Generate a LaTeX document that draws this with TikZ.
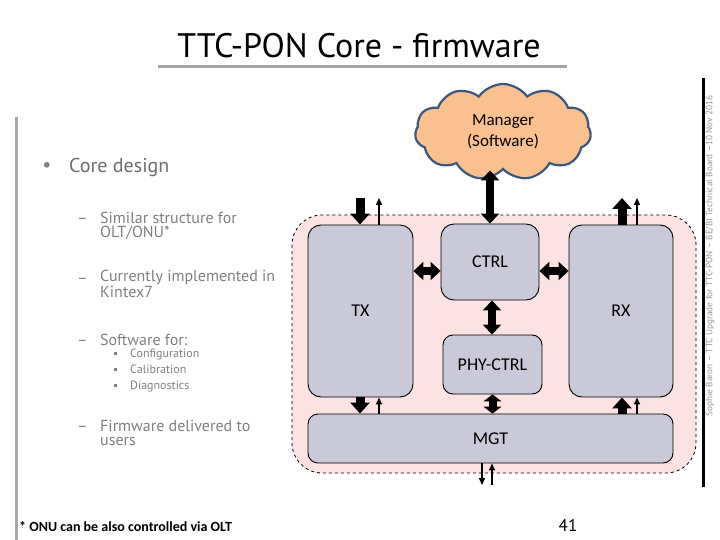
\documentclass[tikz,border=0pt]{standalone}
\usepackage{fontspec}
\setmainfont{PT Sans}
\newfontfamily\boxfont{Carlito}
\usetikzlibrary{arrows.meta,shapes.symbols,positioning}
\definecolor{boxgray}{RGB}{201,201,217}
\definecolor{corepink}{RGB}{252,226,226}
\definecolor{cloudfill}{RGB}{250,192,144}
\definecolor{cloudline}{RGB}{59,87,125}
\definecolor{txtgray}{RGB}{128,128,128}
\definecolor{rulegray}{RGB}{166,166,166}

\begin{document}
\begin{tikzpicture}[x=1pt, y=-1pt,
  blk/.style={draw, fill=boxgray, rounded corners=13pt, font=\boxfont\fontsize{18}{20}\selectfont, inner sep=0pt, line width=0.9pt},
  core/.style={draw, dashed, fill=corepink, rounded corners=30pt, line width=0.8pt},
  lvl1/.style={anchor=base west, inner sep=0pt, text=txtgray!85!black, font=\fontsize{20}{22}\selectfont},
  lvl2/.style={anchor=base west, inner sep=0pt, align=left, text=txtgray, font=\fontsize{16}{14.5}\selectfont},
  lvl3/.style={anchor=base west, inner sep=0pt, text=txtgray, font=\fontsize{12}{14}\selectfont},
  fat/.style={line width=9pt, -{Triangle[width=19pt,length=11pt]}},
  fatboth/.style={line width=8pt, {Triangle[width=18pt,length=10pt]}-{Triangle[width=18pt,length=10pt]}},
  arr/.style={line width=1.4pt, -{Triangle[width=6pt,length=7pt]}}
]
\useasboundingbox (0,0) rectangle (720,540);

% Slide frame
\draw[rulegray, line width=3pt] (16,117) -- (16,540);
\draw[line width=3pt] (703,78) -- (703,487);
\node[anchor=base, font=\fontsize{34}{40}\selectfont] (title) at (359,58) {TTC-PON Core - firmware};
\draw[rulegray, line width=3pt] (158,67) -- (567,67);
\node[rotate=90, text=rulegray!90!black, font=\fontsize{9.2}{10}\selectfont] (foot) at (710,256) {Sophie Baron -- TTC Upgrade for TTC-PON -- BE/BI Technical Board --10 Nov 2016};

% Bullets
\node[text=txtgray, font=\fontsize{20}{22}\selectfont, inner sep=0pt] (dot) at (47,167) {•};
\node[lvl1] (core) at (69,173) {Core design};
\foreach \y in {223,283,345,431}
  \node[lvl2] at (77,\y) {--};
\node[lvl2] (similar) at (100,237.5) {Similar structure for\\OLT/ONU*};
\node[lvl2] (current) at (100,297.5) {Currently implemented in\\Kintex7};
\node[lvl2] (soft) at (100,345) {Software for:};
\node[lvl2] (deliv) at (100,445.5) {Firmware delivered to\\users};
\foreach \y/\l in {357/Configuration, 373/Calibration, 389/Diagnostics}
  \node[lvl3] at (114,\y) {\rule[2pt]{3pt}{3pt}\hspace{13pt}\l};

% Core
\draw[core] (292,215) rectangle (696,473);
\node[blk, minimum width=105pt, minimum height=172pt] (TX) at (360.5,311) {TX};
\node[blk, minimum width=98pt, minimum height=76pt] (CTRL) at (490,262) {CTRL};
\node[blk, minimum width=104pt, minimum height=172pt] (RX) at (621,311) {RX};
\node[blk, minimum width=99pt, minimum height=59pt, rounded corners=10pt] (PHY) at (492.5,364.5) {PHY-CTRL};
\node[blk, minimum width=365pt, minimum height=49pt, rounded corners=10pt] (MGT) at (490.5,438.5) {MGT};

% Manager
\node[cloud, cloud puffs=11, cloud puff arc=110, aspect=2, draw=cloudline, line width=2.2pt, fill=cloudfill, minimum width=176pt, minimum height=96pt, inner sep=0pt, align=center, font=\boxfont\fontsize{17}{21}\selectfont] (mgr) at (503,132) {Manager\\(Software)};

% Free ends
\coordinate (txin) at (360,198);
\coordinate (txout) at (379,198);
\coordinate (rxout) at (622,198);
\coordinate (rxaux) at (637,198);
\coordinate (linkout) at (482,485);
\coordinate (linkin) at (492,485);

% Connectors
\draw[fatboth] (CTRL.north |- mgr.south) -- (CTRL.north);
\draw[fat] (txin) -- (txin |- TX.north);
\draw[arr] (txout |- TX.north) -- (txout);
\draw[fat] (rxout |- RX.north) -- (rxout);
\draw[arr] (rxaux |- RX.north) -- (rxaux);
\draw[fatboth] ([yshift=-9pt]TX.east |- CTRL.west) -- ([yshift=-9pt]CTRL.west);
\draw[fatboth] ([yshift=-9pt]CTRL.east) -- ([yshift=-9pt]RX.west |- CTRL.east);
\draw[fatboth] ([xshift=2pt]CTRL.south) -- ([xshift=2pt]CTRL.south |- PHY.north);
\draw[fatboth, {Triangle[width=18pt,length=7pt]}-{Triangle[width=18pt,length=7pt]}] (PHY.south) -- (PHY.south |- MGT.north);
\draw[fat] (txin |- TX.south) -- (txin |- MGT.north);
\draw[arr] (txout |- MGT.north) -- (txout |- TX.south);
\draw[fat] (rxout |- MGT.north) -- (rxout |- RX.south);
\draw[arr] (rxaux |- MGT.north) -- (rxaux |- RX.south);
\draw[arr] (linkout |- MGT.south) -- (linkout);
\draw[arr] (linkin) -- (linkin |- MGT.south);

% Footer
\node[anchor=base west, inner sep=0pt, font=\boxfont\bfseries\fontsize{14}{16}\selectfont] (note) at (19,531) {* ONU can be also controlled via OLT};
\node[anchor=base, inner sep=0pt, font=\fontsize{17}{20}\selectfont] (page) at (568,531) {41};
\end{tikzpicture}
\end{document}
